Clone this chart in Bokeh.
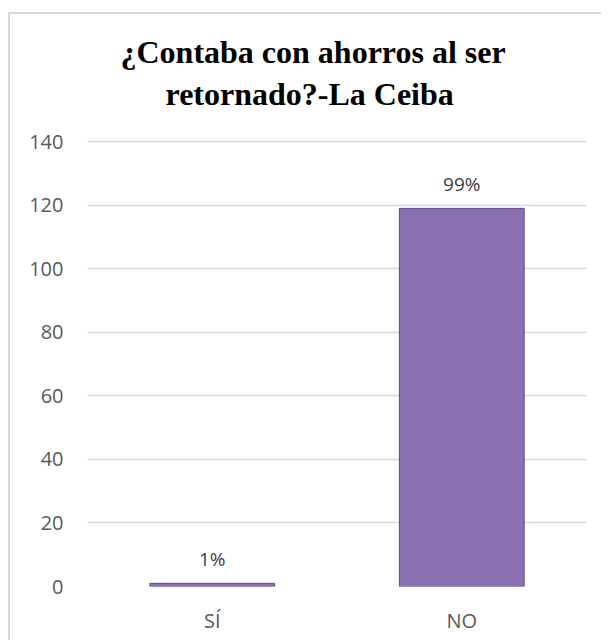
from bokeh.plotting import figure
from bokeh.models import ColumnDataSource, LabelSet, Title, FixedTicker, Range1d
from bokeh.core.properties import value
from bokeh.embed import file_html
from bokeh.resources import INLINE

categories = ["SÍ", "NO"]
counts = [1, 119]
pct_labels = ["1%", "99%"]
y_ticks = [0, 20, 40, 60, 80, 100, 120, 140]
title_lines = ["¿Contaba con ahorros al ser", "retornado?-La Ceiba"]

src = ColumnDataSource(dict(cat=categories, val=counts, lab=pct_labels))

p = figure(x_range=categories, y_range=Range1d(0, 141), width=593, height=628,
           output_backend="svg", toolbar_location=None,
           min_border_left=77, min_border_right=17, min_border_top=124,
           min_border_bottom=56)
p.styles = {"border-top": "2px solid #D9D9D9", "border-left": "2px solid #D9D9D9",
            "margin-top": "12px", "margin-left": "8px"}
p.outline_line_color = None
p.background_fill_color = "white"
p.border_fill_color = "white"

p.vbar(x="cat", top="val", width=0.5, source=src,
       fill_color="#8A6FB1", line_color="#62498A", line_width=1)

labels = LabelSet(x="cat", y="val", text="lab", source=src, text_align="center",
                  text_baseline="middle", y_offset=24, text_font=value("Open Sans"),
                  text_font_size="19px", text_color="#404040")
p.add_layout(labels)

# spacer between the title block and the plot area
p.add_layout(Title(text=" ", text_font_size="16px", standoff=6), "above")
for txt, off in [(title_lines[1], 78), (title_lines[0], 33)]:
    t = Title(text=txt, align="left", offset=off, text_font="Liberation Serif",
              text_font_size="32px", text_font_style="bold", text_color="black",
              standoff=4)
    p.add_layout(t, "above")

p.xgrid.grid_line_color = None
p.ygrid.grid_line_color = "#D9D9D9"
p.ygrid.grid_line_width = 1.5
p.yaxis.ticker = FixedTicker(ticks=y_ticks)

for ax in (p.xaxis, p.yaxis):
    ax.axis_line_color = None
    ax.major_tick_line_color = None
    ax.minor_tick_line_color = None
    ax.major_label_text_font = "Open Sans"
    ax.major_label_text_font_size = "20px"
    ax.major_label_text_color = "#595959"
p.yaxis.major_label_standoff = 18
p.xaxis.major_label_standoff = 14
p.x_range.range_padding = 0.0

open("out.html", "w").write(file_html(p, INLINE))
